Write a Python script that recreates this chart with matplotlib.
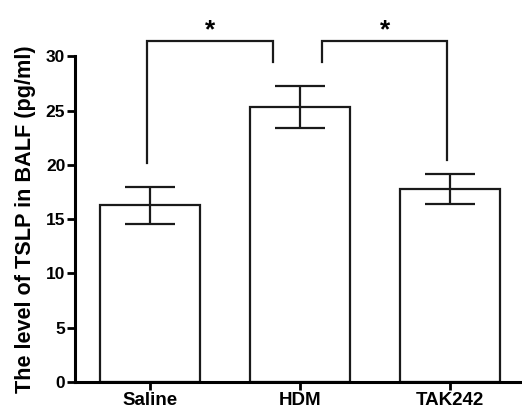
import numpy as np
import matplotlib
matplotlib.use("Agg")
import matplotlib.pyplot as plt

# values
groups = ["Saline", "HDM", "TAK242"]
means = [16.3, 25.3, 17.8]
err_hi = [18.0, 27.25, 19.2]
err_lo = [14.6, 23.4, 16.4]
yticks = [0, 5, 10, 15, 20, 25, 30]

# significance brackets: (x left, x right, y left foot, y right foot, y top)
brackets = [(-0.02, 0.82, 20.2, 29.5, 31.45),
            (1.15, 1.98, 29.5, 20.5, 31.45)]
stars = ["*", "*"]

plt.rcParams['font.family'] = ['Liberation Sans', 'DejaVu Sans']

fig = plt.figure(figsize=(5.22, 4.11), dpi=100)
ax = fig.add_axes([0.1437, 0.0706, 0.862, 0.792])

x = np.arange(len(groups))
ax.bar(x, means, width=0.667, color='white', edgecolor='#1a1a1a', linewidth=1.6, zorder=2)

lo = np.array(means) - np.array(err_lo)
hi = np.array(err_hi) - np.array(means)
ax.errorbar(x, means, yerr=[lo, hi], fmt='none', ecolor='#1a1a1a',
            elinewidth=1.6, capsize=18, capthick=1.6, zorder=3)

for (xl, xr, yl, yr, yt), s in zip(brackets, stars):
    ax.plot([xl, xl, xr, xr], [yl, yt, yt, yr], color='#1a1a1a', lw=1.6,
            clip_on=False, solid_joinstyle='miter')
    ax.text((xl + xr) / 2, yt - 0.1, s, ha='center', va='bottom',
            fontsize=19, fontweight='bold', clip_on=False)

ax.set_xlim(-0.5, 2.5)
ax.set_ylim(0, 30)
ax.set_yticks(yticks)
ax.set_xticks(x)
ax.set_xticklabels(groups)
ax.set_ylabel("The level of TSLP in BALF (pg/ml)", fontsize=15.6, fontweight='bold', labelpad=7)

for sp in ['top', 'right']:
    ax.spines[sp].set_visible(False)
for sp in ['left', 'bottom']:
    ax.spines[sp].set_linewidth(2.2)
ax.tick_params(axis='both', width=2.0, length=6, pad=1)
ax.tick_params(axis='y', labelsize=12.5)
ax.tick_params(axis='x', labelsize=13.5)
for lab in ax.get_xticklabels() + ax.get_yticklabels():
    lab.set_fontweight('bold')

fig.savefig("out.png", dpi=100)
